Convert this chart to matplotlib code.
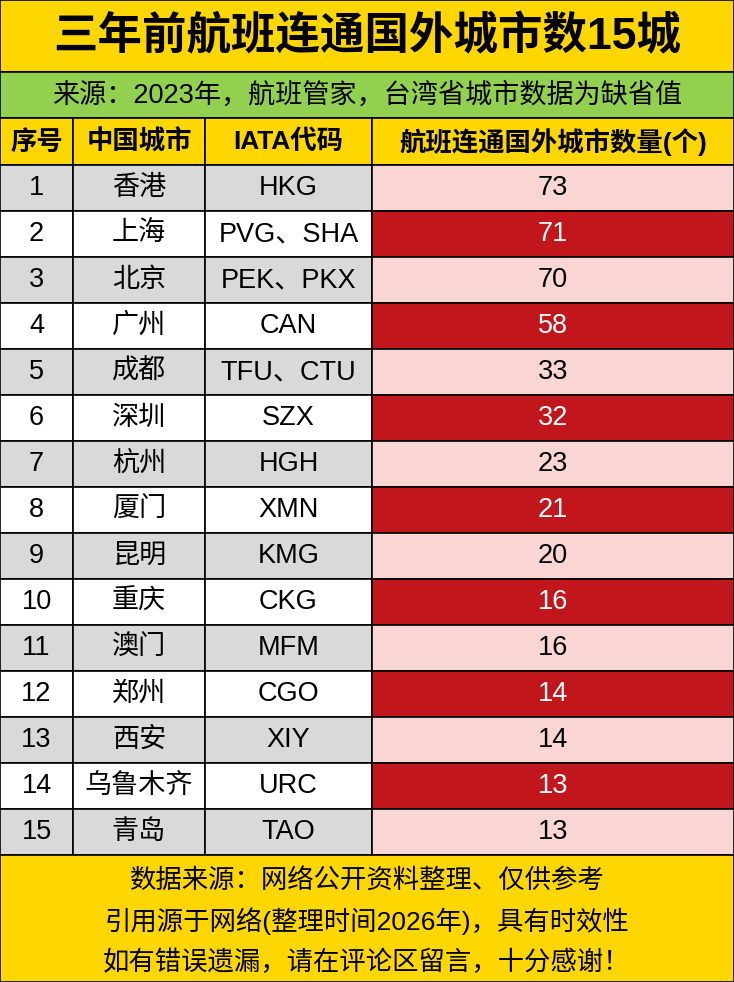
import matplotlib
matplotlib.use("Agg")
import matplotlib.pyplot as plt
from matplotlib.patches import Rectangle

plt.rcParams['font.family'] = ['Liberation Sans', 'Noto Sans CJK SC', 'DejaVu Sans']

title = "三年前航班连通国外城市数15城"
subtitle = "来源：2023年，航班管家，台湾省城市数据为缺省值"
headers = ["序号", "中国城市", "IATA代码", "航班连通国外城市数量(个)"]
ranks = list(range(1, 16))
cities = ["香港", "上海", "北京", "广州", "成都", "深圳", "杭州", "厦门", "昆明", "重庆",
          "澳门", "郑州", "西安", "乌鲁木齐", "青岛"]
codes = ["HKG", "PVG、SHA", "PEK、PKX", "CAN", "TFU、CTU", "SZX", "HGH", "XMN", "KMG", "CKG",
         "MFM", "CGO", "XIY", "URC", "TAO"]
values = [73, 71, 70, 58, 33, 32, 23, 21, 20, 16, 16, 14, 14, 13, 13]
footer = ["数据来源：网络公开资料整理、仅供参考",
          "引用源于网络(整理时间2026年)，具有时效性",
          "如有错误遗漏，请在评论区留言，十分感谢！"]

W, H = 734, 982
fig = plt.figure(figsize=(W/100, H/100), dpi=100)
ax = fig.add_axes([0, 0, 1, 1])
ax.set_xlim(0, W); ax.set_ylim(H, 0); ax.axis('off')

YEL = "#FFD700"; GRN = "#92D050"; GRY = "#D9D9D9"; PNK = "#F9D5D3"; RED = "#C0161C"
cols = [0, 73, 205, 372, 734]
lw = 1.2

def rect(x0, y0, x1, y1, fc):
    ax.add_patch(Rectangle((x0, y0), x1-x0, y1-y0, facecolor=fc, edgecolor='black', lw=lw))

rect(0, 0, W, 72, YEL)
ax.text(W/2, 37, title, ha='center', va='center', fontsize=32, fontweight='bold')
rect(0, 72, W, 118, GRN)
ax.text(W/2, 96, subtitle, ha='center', va='center', fontsize=19.5)
for j, h in enumerate(headers):
    rect(cols[j], 118, cols[j+1], 165, YEL)
    ax.text((cols[j]+cols[j+1])/2, 142, h, ha='center', va='center', fontsize=19, fontweight='bold')

rh = (855 - 165) / 15
for i in range(15):
    y0 = 165 + i*rh; y1 = y0 + rh; yc = (y0+y1)/2
    odd = i % 2 == 0
    left = GRY if odd else "white"
    vfc = PNK if odd else RED
    vtc = "black" if odd else "white"
    texts = [str(ranks[i]), cities[i], codes[i], str(values[i])]
    for j in range(4):
        fc = vfc if j == 3 else left
        rect(cols[j], y0, cols[j+1], y1, fc)
        ax.text((cols[j]+cols[j+1])/2, yc, texts[j], ha='center', va='center',
                fontsize=19.5, color=vtc if j == 3 else "black")

rect(0, 855, W, H, YEL)
for k, line in enumerate(footer):
    ax.text(W/2, 880 + k*41, line, ha='center', va='center', fontsize=19)

fig.savefig("out.png", dpi=100)
